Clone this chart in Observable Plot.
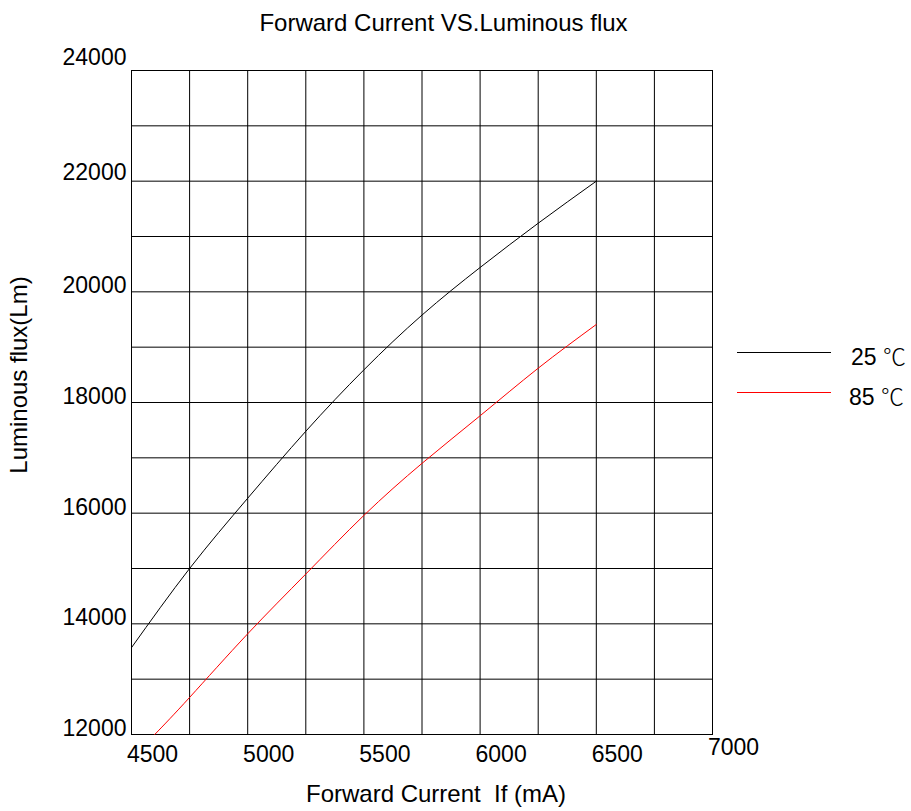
<!DOCTYPE html>
<html>
<head>
<meta charset="utf-8">
<script src="https://cdn.jsdelivr.net/npm/d3@7"></script>
<script src="https://cdn.jsdelivr.net/npm/@observablehq/plot@0.6"></script>
<style>
  html, body { margin: 0; padding: 0; background: #fff; }
  #wrap { position: relative; width: 911px; height: 811px; font-family: "Liberation Sans", Arial, sans-serif; color: #000; }
  #wrap svg { position: absolute; left: 0; top: 0; }
  .t { position: absolute; white-space: pre; font-size: 24px; line-height: 24px; }
  .leg { position: absolute; white-space: pre; font-size: 23px; line-height: 23px; }
  .cel { font-family: "Noto Sans CJK SC", sans-serif; font-weight: 300; }
  .sw { position: absolute; height: 0; }
</style>
</head>
<body>
<div id="wrap"></div>
<script>
// ---- data ----
const current25 = [4500, 4750, 5000, 5250, 5500, 5750, 6000, 6250, 6500];
const flux25    = [13570, 15000, 16270, 17480, 18590, 19580, 20440, 21240, 22000];
const current85 = [4600, 4750, 5000, 5250, 5500, 5750, 6000, 6250, 6500];
const flux85    = [12000, 12670, 13820, 14900, 15960, 16900, 17760, 18620, 19410];
const seriesNames = ["25 ℃", "85 ℃"];
const seriesColors = ["#000000", "#ff0000"];
const xTickLabels = [4500, 5000, 5500, 6000, 6500];
const xTickLast = [7000];
const yTickTop = [24000];
const yTickSecond = [22000];
const yTickRest = [12000, 14000, 16000, 18000, 20000];
const xGridValues = [4500, 4750, 5000, 5250, 5500, 5750, 6000, 6250, 6500, 6750, 7000];
const yGridValues = [12000, 13000, 14000, 15000, 16000, 17000, 18000, 19000, 20000, 21000, 22000, 23000, 24000];
const titleText = "Forward Current VS.Luminous flux";
const xTitle = "Forward Current  If (mA)";
const yTitle = "Luminous flux(Lm)";

const d25 = current25.map((x, i) => ({x, y: flux25[i]}));
const d85 = current85.map((x, i) => ({x, y: flux85[i]}));
const fmt = d => String(d);

const chart = Plot.plot({
  width: 911,
  height: 811,
  marginLeft: 131,
  marginRight: 199,
  marginTop: 70,
  marginBottom: 77,
  style: {fontFamily: '"Liberation Sans", Arial, sans-serif', color: "#000", background: "#fff", overflow: "visible"},
  x: {domain: [4500, 7000]},
  y: {domain: [12000, 24000]},
  marks: [
    Plot.gridX({ticks: xGridValues, stroke: "#000", strokeOpacity: 1, strokeWidth: 1}),
    Plot.gridY({ticks: yGridValues, stroke: "#000", strokeOpacity: 1, strokeWidth: 1}),
    Plot.frame({stroke: "#000", strokeWidth: 1}),
    Plot.line(d25, {x: "x", y: "y", stroke: seriesColors[0], strokeWidth: 1, curve: "natural"}),
    Plot.line(d85, {x: "x", y: "y", stroke: seriesColors[1], strokeWidth: 1, curve: "natural"}),
    Plot.axisX({ticks: xTickLabels, tickSize: 0, tickPadding: 11, dx: 21, fontSize: 23, label: null, tickFormat: fmt}),
    Plot.axisX({ticks: xTickLast, tickSize: 0, tickPadding: 4, dx: 21, fontSize: 23, label: null, tickFormat: fmt}),
    Plot.axisY({ticks: yTickTop, tickSize: 0, tickPadding: 5, dy: -13, fontSize: 23, label: null, tickFormat: fmt}),
    Plot.axisY({ticks: yTickSecond, tickSize: 0, tickPadding: 5, dy: -9, fontSize: 23, label: null, tickFormat: fmt}),
    Plot.axisY({ticks: yTickRest, tickSize: 0, tickPadding: 5, dy: -6, fontSize: 23, label: null, tickFormat: fmt})
  ]
});

const wrap = document.getElementById("wrap");
wrap.appendChild(chart);

function addText(cls, txt, css) {
  const el = document.createElement("div");
  el.className = cls;
  el.textContent = txt;
  Object.assign(el.style, css);
  wrap.appendChild(el);
  return el;
}
addText("t", titleText, {left: "443.5px", top: "11px", transform: "translateX(-50%)"});
addText("t", xTitle, {left: "436px", top: "782px", transform: "translateX(-50%)"});
addText("t", yTitle, {left: "19px", top: "375px", transform: "translate(-50%, -50%) rotate(-90deg)"});

// legend
const legY = [352, 392];
const legTextTop = [343.5, 383.5];
const legTextLeft = [851, 849];
seriesNames.forEach((name, i) => {
  const sw = document.createElement("div");
  sw.className = "sw";
  Object.assign(sw.style, {left: "737px", width: "94px", top: legY[i] + "px", borderTop: "1px solid " + seriesColors[i]});
  wrap.appendChild(sw);
  const el = document.createElement("div");
  el.className = "leg";
  const [num, unit] = name.split(" ");
  el.innerHTML = num + " <span class='cel'>" + unit + "</span>";
  Object.assign(el.style, {left: legTextLeft[i] + "px", top: legTextTop[i] + "px"});
  wrap.appendChild(el);
});
</script>
</body>
</html>
